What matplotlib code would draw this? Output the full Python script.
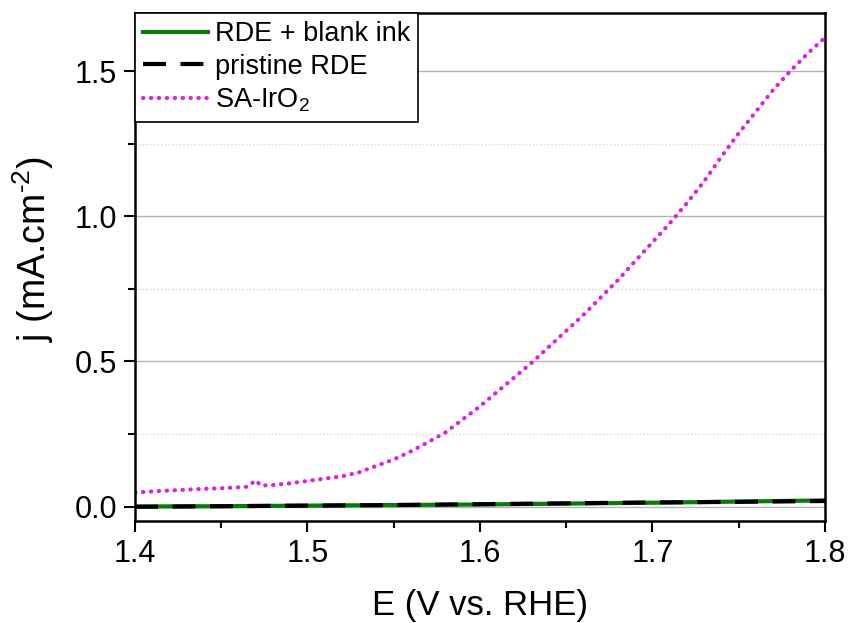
import numpy as np
import matplotlib.pyplot as plt
from matplotlib.ticker import MultipleLocator

plt.rcParams['font.family'] = ['Liberation Sans', 'DejaVu Sans']
plt.rcParams['mathtext.fontset'] = 'custom'
plt.rcParams['mathtext.rm'] = 'Liberation Sans'
plt.rcParams['mathtext.it'] = 'Liberation Sans'
plt.rcParams['mathtext.default'] = 'regular'

# polarisation curves, E in V vs. RHE, j in mA/cm2
E_ir = [1.40, 1.41, 1.42, 1.43, 1.44, 1.45, 1.46, 1.465, 1.47, 1.473, 1.48,
        1.49, 1.50, 1.51, 1.52, 1.53, 1.54, 1.55, 1.56, 1.57, 1.58, 1.59,
        1.60, 1.61, 1.62, 1.63, 1.64, 1.65, 1.66, 1.67, 1.68, 1.69, 1.70,
        1.71, 1.72, 1.73, 1.74, 1.75, 1.76, 1.77, 1.78, 1.79, 1.80]
j_ir = [0.048, 0.052, 0.055, 0.058, 0.061, 0.063, 0.066, 0.068, 0.090, 0.072, 0.074,
        0.080, 0.088, 0.096, 0.104, 0.118, 0.140, 0.162, 0.190, 0.222, 0.255, 0.300,
        0.345, 0.395, 0.445, 0.495, 0.550, 0.605, 0.660, 0.720, 0.780, 0.845, 0.910,
        0.975, 1.045, 1.120, 1.205, 1.285, 1.360, 1.435, 1.500, 1.560, 1.615]

E_bg = [1.40, 1.45, 1.50, 1.55, 1.60, 1.65, 1.70, 1.75, 1.80]
j_blank = [0.000, 0.001, 0.003, 0.005, 0.007, 0.010, 0.013, 0.017, 0.021]
j_pristine = [-0.001, 0.001, 0.003, 0.005, 0.008, 0.011, 0.014, 0.016, 0.019]

fig = plt.figure(figsize=(8.52, 6.23), dpi=100)
ax = fig.add_axes([0.1585, 0.1637, 0.8095, 0.8153])

ax.plot(E_bg, j_blank, color='#0a7a0a', lw=3, label='RDE + blank ink')
ax.plot(E_bg, j_pristine, color='black', lw=3, dashes=(5.5, 3.5), label='pristine RDE')
ax.plot(E_ir, j_ir, color='#dd22dd', lw=3.0, linestyle=(0, (0.1, 1.8)),
        dash_capstyle='round', label='SA-IrO$_2$')

ax.set_xlim(1.4, 1.8)
ax.set_ylim(-0.05, 1.70)
ax.xaxis.set_minor_locator(MultipleLocator(0.05))
ax.yaxis.set_minor_locator(MultipleLocator(0.25))
ax.set_xticks([1.4, 1.5, 1.6, 1.7, 1.8])
ax.set_xticklabels(['1.4', '1.5', '1.6', '1.7', '1.8'])
ax.set_yticks([0.0, 0.5, 1.0, 1.5])
ax.set_yticklabels(['0.0', '0.5', '1.0', '1.5'])

ax.grid(axis='y', which='major', color='#b4b4b4', lw=1.0, ls='-')
ax.grid(axis='y', which='minor', color='#d8d8d8', lw=1.0, ls=':')
ax.set_axisbelow(True)

ax.tick_params(which='major', direction='out', length=8, width=1.5, labelsize=22, pad=5)
ax.tick_params(which='minor', direction='out', length=5, width=1.5)
for s in ax.spines.values():
    s.set_linewidth(1.8)

ax.set_xlabel('E (V vs. RHE)', fontsize=25, labelpad=14)
ax.set_ylabel(r'j (mA.cm$^{\text{-2}}$)', fontsize=27)
ax.yaxis.set_label_coords(-0.115, 0.535)

leg = ax.legend(loc='upper left', fontsize=19.5, frameon=True, fancybox=False,
                borderaxespad=0, handlelength=2.4, handletextpad=0.25,
                borderpad=0.3, labelspacing=0.25)
leg.get_frame().set_edgecolor('black')
leg.get_frame().set_linewidth(1.2)
leg.get_frame().set_alpha(1)

fig.savefig('out.png', dpi=100)
